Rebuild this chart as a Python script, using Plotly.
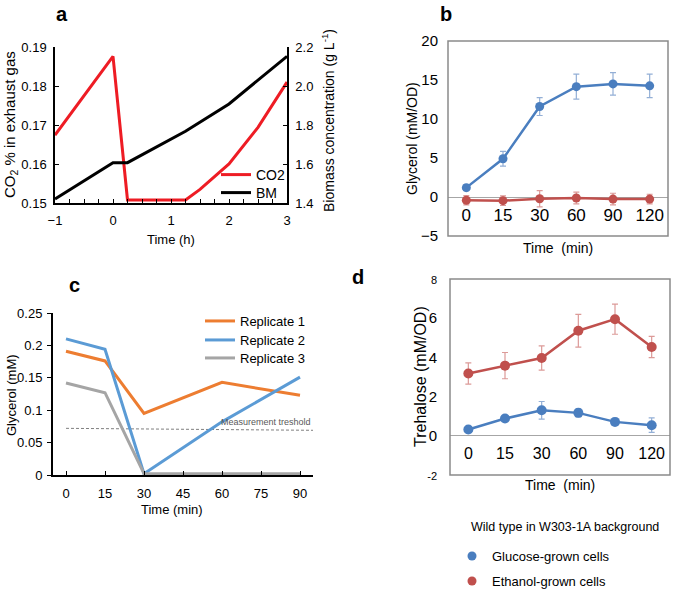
import plotly.graph_objects as go

W, H = 675, 594
FONT = "Liberation Sans, Arial, sans-serif"


def px(x):
    return x / W


def py(y):
    return 1 - y / H


# ---------------- Panel a data ----------------
a_co2_time = [-1, 0, 0.25, 1.25, 1.5, 2, 2.5, 3]
a_co2 = [0.1674, 0.1876, 0.1508, 0.1508, 0.1535, 0.1600, 0.1694, 0.1810]
a_bm_time = [-1, 0, 0.25, 1.25, 2, 3]
a_bm = [1.42, 1.607, 1.607, 1.768, 1.908, 2.152]
a_xticks = [-1, 0, 1, 2, 3]

# ---------------- Panel b data ----------------
time_cats = ["0", "15", "30", "60", "90", "120"]
b_glucose = [1.2, 4.9, 11.6, 14.15, 14.5, 14.25]
b_glucose_err = [0.4, 0.95, 1.15, 1.6, 1.45, 1.5]
b_ethanol = [-0.42, -0.47, -0.22, -0.13, -0.27, -0.27]
b_ethanol_err = [0.6, 0.62, 1.05, 0.75, 0.75, 0.62]

# ---------------- Panel c data ----------------
c_time = [0, 15, 30, 60, 90]
c_rep1 = [0.191, 0.176, 0.095, 0.143, 0.123]
c_rep2 = [0.210, 0.194, 0.002, 0.082, 0.151]
c_rep3 = [0.142, 0.127, 0.002, 0.002, 0.002]
c_threshold_x = [0, 95]
c_threshold_y = [0.072, 0.069]
c_xticks = [0, 15, 30, 45, 60, 75, 90]

# ---------------- Panel d data ----------------
d_glucose = [0.32, 0.88, 1.3, 1.17, 0.71, 0.54]
d_glucose_err = [0.15, 0.1, 0.45, 0.2, 0.18, 0.37]
d_ethanol = [3.18, 3.58, 3.97, 5.36, 5.95, 4.53]
d_ethanol_err = [0.54, 0.67, 0.62, 0.84, 0.77, 0.54]
d_yticks = [-2, 0, 2, 4, 6, 8]
d_yticktext = ["<span style='font-size:11px'>-2</span>", "0", "2", "4", "6",
               "<span style='font-size:11px'>8</span>"]

BLUE = "#4a7ebf"
RED = "#c0504d"
BLUE_ERR = "#93afd6"
RED_ERR = "#dc9a98"

fig = go.Figure()

# Panel a
fig.add_trace(go.Scatter(x=a_co2_time, y=a_co2, xaxis="x", yaxis="y", mode="lines",
                         line=dict(color="#ee1c24", width=3), name="CO2",
                         legend="legend"))
fig.add_trace(go.Scatter(x=a_bm_time, y=a_bm, xaxis="x", yaxis="y2", mode="lines",
                         line=dict(color="black", width=3), name="BM",
                         legend="legend2"))

# Panel b
fig.add_trace(go.Scatter(x=time_cats, y=b_glucose, xaxis="x2", yaxis="y3",
                         mode="lines+markers", line=dict(color=BLUE, width=2.5),
                         marker=dict(color=BLUE, size=9),
                         error_y=dict(type="data", array=b_glucose_err, color=BLUE_ERR,
                                      thickness=1.2, width=3),
                         showlegend=False))
fig.add_trace(go.Scatter(x=time_cats, y=b_ethanol, xaxis="x2", yaxis="y3",
                         mode="lines+markers", line=dict(color=RED, width=2.5),
                         marker=dict(color=RED, size=9),
                         error_y=dict(type="data", array=b_ethanol_err, color=RED_ERR,
                                      thickness=1.2, width=3),
                         showlegend=False))

# Panel c
fig.add_trace(go.Scatter(x=c_threshold_x, y=c_threshold_y, xaxis="x3", yaxis="y4",
                         mode="lines", line=dict(color="#7f7f7f", width=1, dash="3px,2px"),
                         showlegend=False))
for name, vals, col, lg in [("Replicate 1", c_rep1, "#ed7d31", "legend3"),
                            ("Replicate 2", c_rep2, "#5b9bd5", "legend4"),
                            ("Replicate 3", c_rep3, "#a5a5a5", "legend5")]:
    fig.add_trace(go.Scatter(x=c_time, y=vals, xaxis="x3", yaxis="y4", mode="lines",
                             line=dict(color=col, width=3), name=name, legend=lg))

# Panel d
fig.add_trace(go.Scatter(x=time_cats, y=d_ethanol, xaxis="x4", yaxis="y5",
                         mode="lines+markers", line=dict(color=RED, width=2.5),
                         marker=dict(color=RED, size=10),
                         error_y=dict(type="data", array=d_ethanol_err, color=RED_ERR,
                                      thickness=1.2, width=3),
                         showlegend=False))
fig.add_trace(go.Scatter(x=time_cats, y=d_glucose, xaxis="x4", yaxis="y5",
                         mode="lines+markers", line=dict(color=BLUE, width=2.5),
                         marker=dict(color=BLUE, size=10),
                         error_y=dict(type="data", array=d_glucose_err, color=BLUE_ERR,
                                      thickness=1.2, width=3),
                         showlegend=False))

# Bottom legend entries (dot only)
for name, col, lg in [("Glucose-grown cells", BLUE, "legend6"),
                      ("Ethanol-grown cells", RED, "legend7")]:
    fig.add_trace(go.Scatter(x=[None], y=[None], xaxis="x4", yaxis="y5", mode="markers",
                             marker=dict(color=col, size=9), name=name, legend=lg))

# ---------------- Layout ----------------
A = dict(x0=55, x1=287, y0=47, y1=203)
B = dict(x0=448, x1=668, y0=41, y1=236)
C = dict(x0=53, x1=313, y0=313, y1=475)
D = dict(x0=450, x1=670, y0=279, y1=475)

b_range = [-5, 20]
d_range = [-2, 8]


def zero_pos(box, rng):
    frac = (0 - rng[0]) / (rng[1] - rng[0])
    return py(box["y1"]) + frac * (py(box["y0"]) - py(box["y1"]))


axis_common = dict(showgrid=False, zeroline=False)
black_axis = dict(showline=True, linecolor="black", linewidth=1.5, tickcolor="black",
                  tickfont=dict(size=13, color="black"), **axis_common)


def one_legend(x, row_y, size):
    return dict(x=px(x), y=py(row_y - 15), xanchor="left", yanchor="top",
                bgcolor="rgba(0,0,0,0)", font=dict(size=size), itemwidth=30)


fig.update_layout(
    width=W, height=H, autosize=False,
    margin=dict(l=0, r=0, t=0, b=0, autoexpand=False),
    paper_bgcolor="white", plot_bgcolor="rgba(0,0,0,0)",
    font=dict(family=FONT, color="black"),
    xaxis=dict(domain=[px(A["x0"]), px(A["x1"])], anchor="y", range=[-1, 3],
               tickvals=a_xticks, ticks="inside", ticklen=4,
               minor=dict(dtick=0.25, ticks="inside", ticklen=4, tickcolor="black"),
               ticklabelstandoff=5, **black_axis),
    yaxis=dict(domain=[py(A["y1"]), py(A["y0"])], anchor="x", range=[0.15, 0.19],
               dtick=0.01, tickformat=".2f", ticks="inside", ticklen=4,
               ticklabelstandoff=4, **black_axis),
    yaxis2=dict(overlaying="y", anchor="x", side="right", range=[1.4, 2.2],
                dtick=0.2, tickformat=".1f", ticks="inside", ticklen=4,
                ticklabelstandoff=4, **black_axis),
    xaxis2=dict(domain=[px(B["x0"]), px(B["x1"])], anchor="free",
                position=zero_pos(B, b_range), type="category",
                categoryorder="array", categoryarray=time_cats, range=[-0.5, 5.5],
                showline=False, ticks="", ticklabelstandoff=6,
                tickfont=dict(size=17), **axis_common),
    yaxis3=dict(domain=[py(B["y1"]), py(B["y0"])], anchor="x2", range=b_range,
                dtick=5, ticks="", showline=False, showgrid=False,
                zeroline=True, zerolinecolor="#a6a6a6", zerolinewidth=1,
                ticklabelstandoff=9, tickfont=dict(size=15)),
    xaxis3=dict(domain=[px(C["x0"]), px(C["x1"])], anchor="y4", range=[-5, 95],
                tickvals=c_xticks, ticks="inside", ticklen=4, ticklabelstandoff=5,
                **{**black_axis, "linewidth": 2}),
    yaxis4=dict(domain=[py(C["y1"]), py(C["y0"])], anchor="x3", range=[0, 0.25],
                dtick=0.05, ticks="outside", ticklen=4, ticklabelstandoff=2,
                **{**black_axis, "linewidth": 2}),
    xaxis4=dict(domain=[px(D["x0"]), px(D["x1"])], anchor="free",
                position=zero_pos(D, d_range), type="category",
                categoryorder="array", categoryarray=time_cats, range=[-0.5, 5.5],
                showline=False, ticks="", ticklabelstandoff=6,
                tickfont=dict(size=16), **axis_common),
    yaxis5=dict(domain=[py(D["y1"]), py(D["y0"])], anchor="x4", range=d_range,
                tickvals=d_yticks, ticktext=d_yticktext, ticks="", showline=False,
                showgrid=False, zeroline=True, zerolinecolor="#a6a6a6", zerolinewidth=1,
                ticklabelstandoff=12, tickfont=dict(size=15)),
    legend=one_legend(216, 174, 14),
    legend2=one_legend(216, 192, 14),
    legend3=one_legend(200, 321, 13),
    legend4=one_legend(200, 340, 13),
    legend5=one_legend(200, 358, 13),
    legend6=one_legend(452, 556, 13),
    legend7=one_legend(452, 581, 13),
    showlegend=True,
)

# frames around panels b and d
for xr, yr in [("x2", "y3"), ("x4", "y5")]:
    fig.add_shape(type="rect", xref=f"{xr} domain", yref=f"{yr} domain",
                  x0=0, x1=1, y0=0, y1=1, line=dict(color="#8a8a8a", width=1.5),
                  layer="above")


def add_text(x, y, text, size, angle=0, bold=False, xanchor="center", color="black"):
    fig.add_annotation(x=px(x), y=py(y), xref="paper", yref="paper", text=text,
                       showarrow=False, textangle=angle, xanchor=xanchor, yanchor="middle",
                       font=dict(size=size, family=FONT, color=color,
                                 weight="bold" if bold else "normal"))


# panel letters
add_text(62, 14, "a", 20, bold=True)
add_text(446, 14, "b", 20, bold=True)
add_text(74, 285, "c", 20, bold=True)
add_text(358, 277, "d", 20, bold=True)

# axis titles
add_text(171, 240, "Time (h)", 13)
add_text(11, 125, "CO<sub>2</sub> % in exhaust gas", 15, angle=-90)
add_text(328, 121, "Biomass concentration (g L<sup>-1</sup>)", 14, angle=-90)
add_text(412, 139, "Glycerol (mM/OD)", 14, angle=-90)
add_text(558, 248, "Time  (min)", 14)
add_text(11, 395, "Glycerol (mM)", 13, angle=-90)
add_text(172, 509, "Time (min)", 13)
add_text(420, 377, "Trehalose (mM/OD)", 16, angle=-90)
add_text(560, 485, "Time  (min)", 14)
add_text(469, 527, "Wild type in W303-1A background", 12.5, xanchor="left")

# threshold label
fig.add_annotation(x=c_threshold_x[-1], y=c_threshold_y[0], xref="x3", yref="y4",
                   text="Measurement treshold", showarrow=False, xanchor="right",
                   yanchor="bottom", yshift=-1,
                   font=dict(size=9, family=FONT, color="#595959"))

fig.write_html("out.html",
               config={"displayModeBar": False},
               post_script="document.body.style.margin='0px';"
                           "document.body.style.overflow='hidden';")
